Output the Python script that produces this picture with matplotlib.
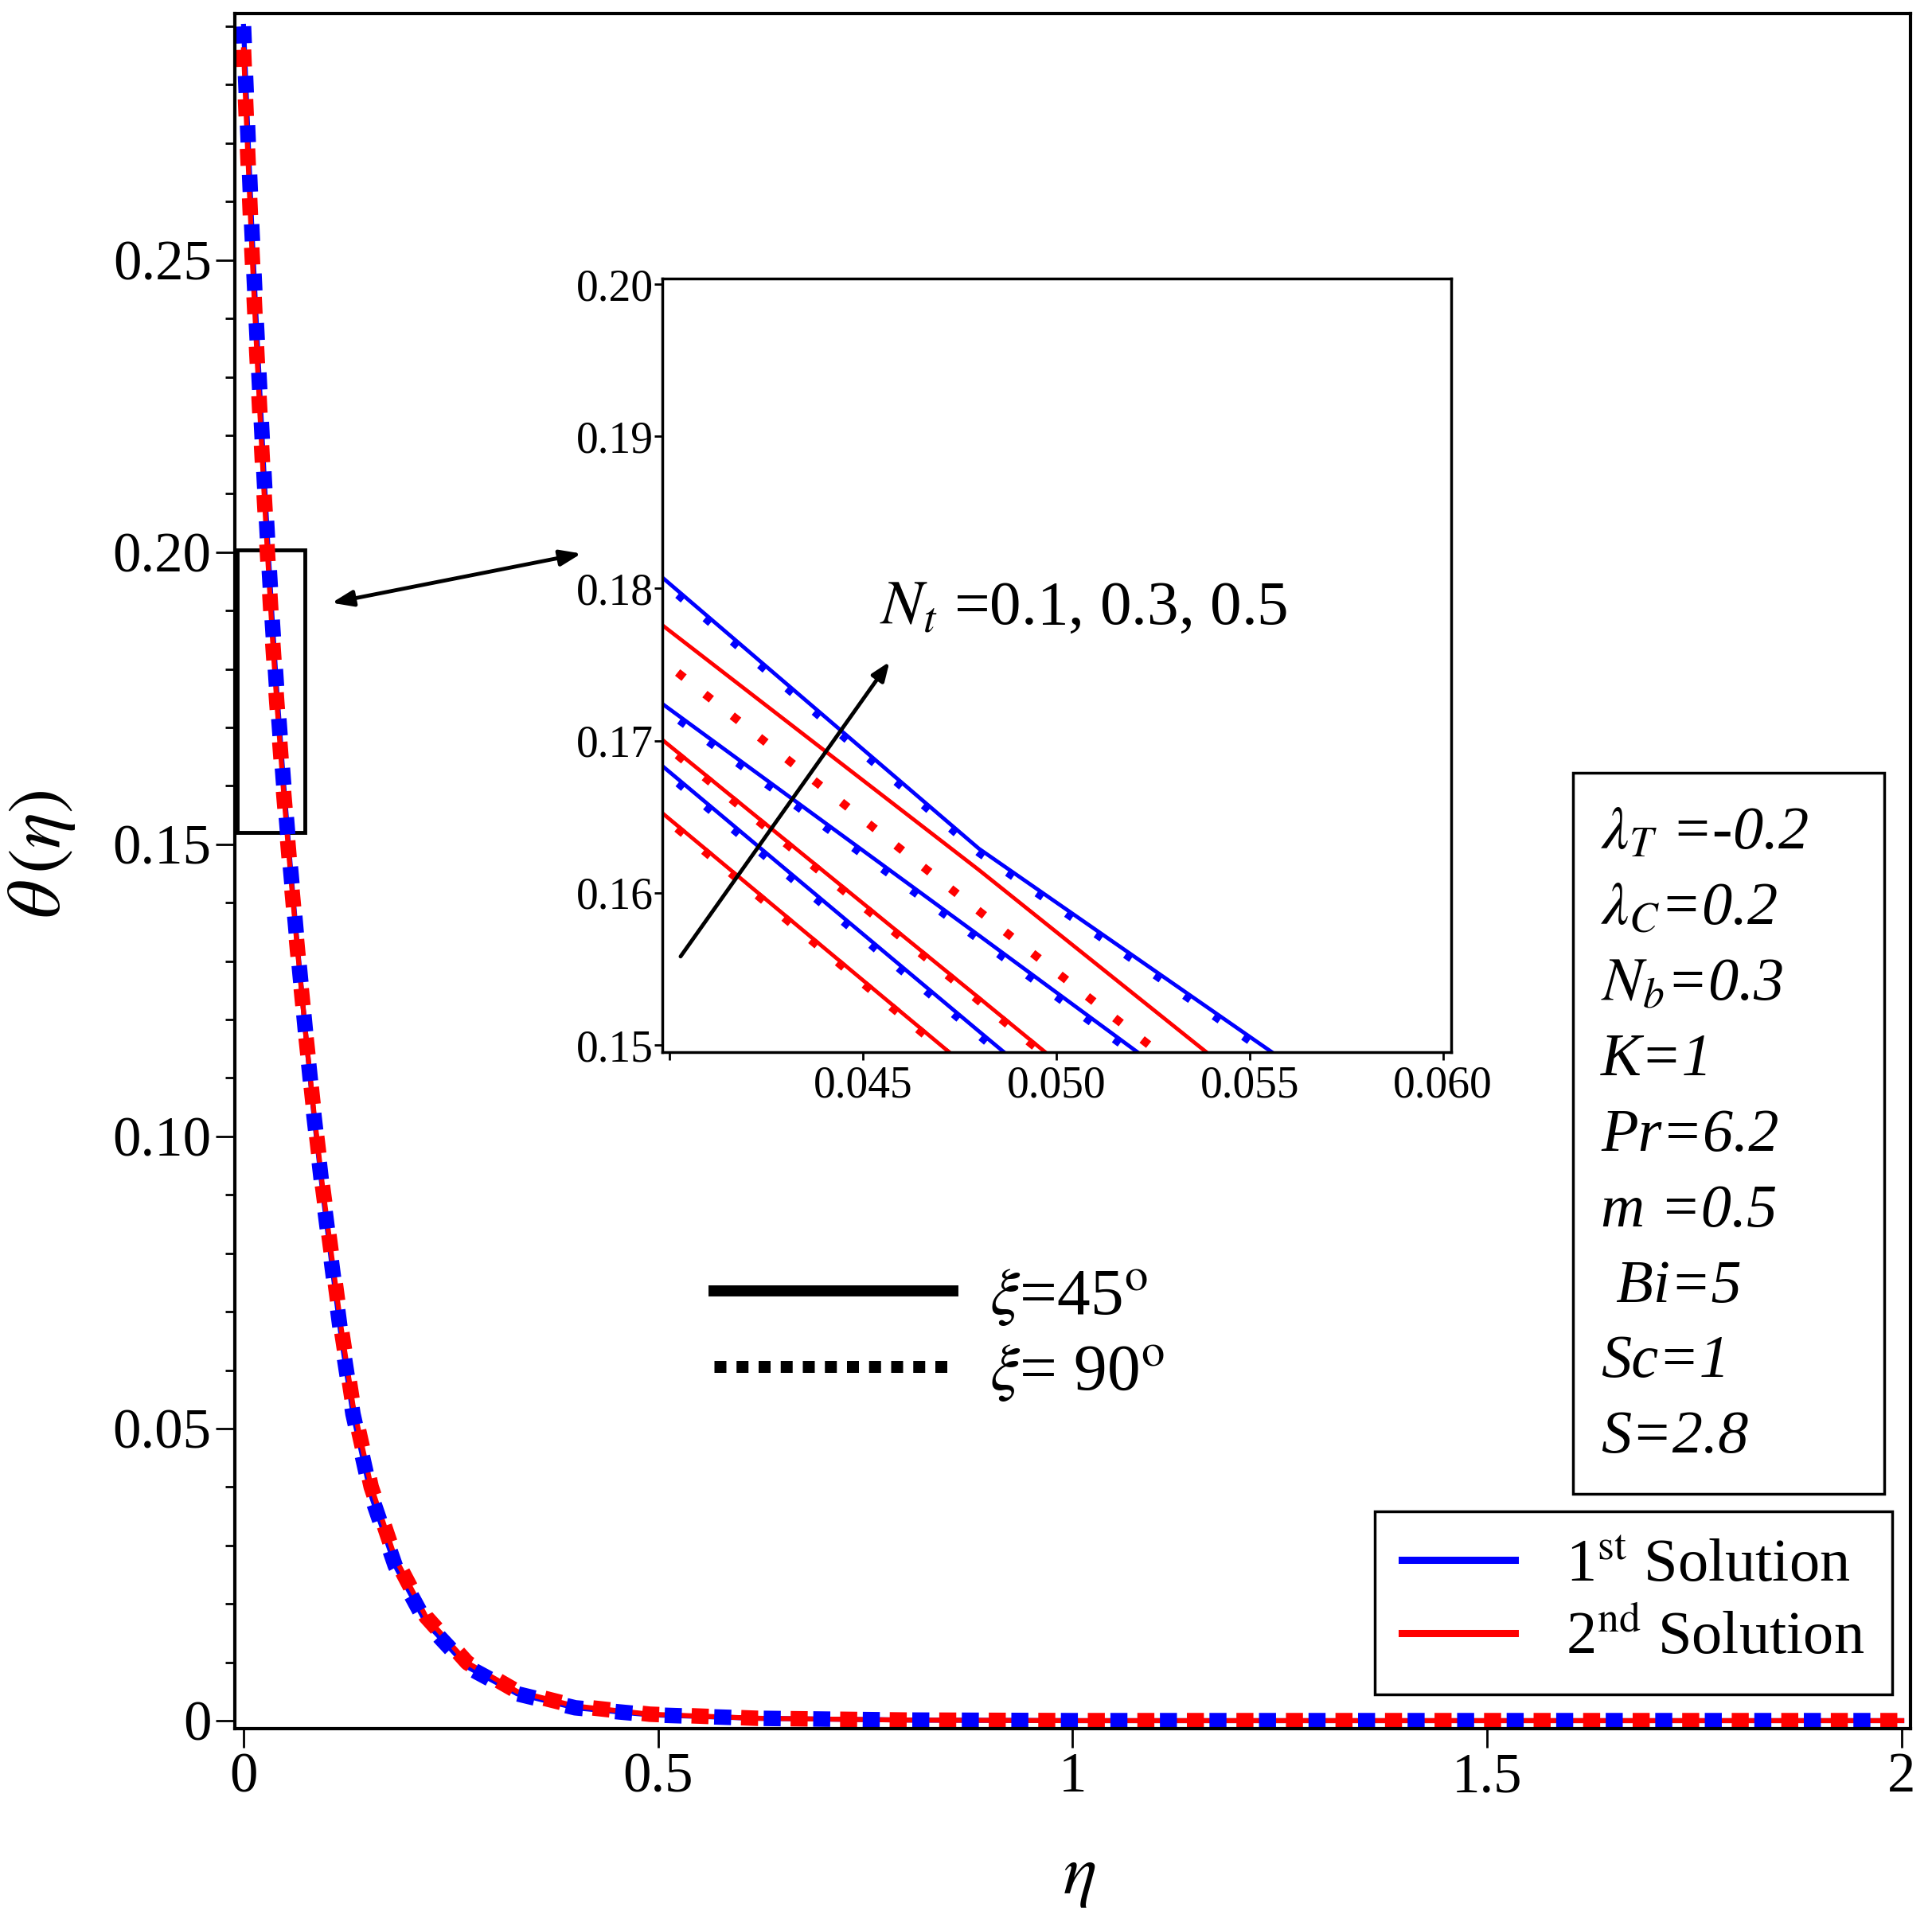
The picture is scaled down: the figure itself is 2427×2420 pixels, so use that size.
import matplotlib
matplotlib.use("Agg")
import matplotlib.pyplot as plt
from matplotlib.patches import Rectangle
from matplotlib.lines import Line2D
from matplotlib.ticker import MultipleLocator

plt.rcParams["font.family"] = ["Liberation Serif", "DejaVu Serif"]
plt.rcParams["mathtext.fontset"] = "stix"

# main panel: theta(eta) for both solutions (the xi=45 / xi=90 curves coincide here)
eta = [0, 0.005, 0.01, 0.015, 0.02, 0.025, 0.03, 0.035, 0.04, 0.048, 0.056,
       0.065, 0.075, 0.085, 0.095, 0.107, 0.118, 0.132, 0.154, 0.183, 0.22,
       0.27, 0.33, 0.40, 0.49, 0.62, 0.8, 1.0, 1.25, 1.5, 1.75, 2.0]
theta_1st = [0.290, 0.2725, 0.2555, 0.2405, 0.2265, 0.2125, 0.1995, 0.1875,
             0.1765, 0.161, 0.147, 0.1325, 0.1175, 0.1035, 0.091, 0.0775,
             0.0655, 0.0525, 0.0385, 0.0265, 0.0168, 0.0092, 0.0046, 0.0022,
             0.0010, 0.0004, 0.0001, 0.0, 0.0, 0.0, 0.0, 0.0]
theta_2nd = [0.286, 0.2685, 0.252, 0.237, 0.223, 0.2095, 0.197, 0.185,
             0.1745, 0.1595, 0.146, 0.132, 0.1175, 0.104, 0.0918, 0.0788,
             0.0670, 0.0540, 0.0400, 0.0278, 0.0178, 0.0099, 0.0050, 0.0025,
             0.0011, 0.0004, 0.0001, 0.0, 0.0, 0.0, 0.0, 0.0]

# zoomed panel, rows are Nt = 0.1, 0.3, 0.5
eta_zoom = [0.0395, 0.048, 0.0565]
zoom_1st_45 = [[0.1690, 0.1509, 0.1329],
               [0.1730, 0.1572, 0.1413],
               [0.1814, 0.1629, 0.1479]]
zoom_1st_90 = [[0.1687, 0.1506, 0.1326],
               [0.1727, 0.1569, 0.1410],
               [0.1811, 0.1626, 0.1476]]
zoom_2nd_45 = [[0.1659, 0.1479, 0.1300],
               [0.1707, 0.1531, 0.1354],
               [0.1782, 0.1615, 0.1442]]
zoom_2nd_90 = [[0.1657, 0.1477, 0.1298],
               [0.1705, 0.1529, 0.1352],
               [0.1759, 0.1588, 0.1418]]

params = [r"$\lambda_T$ =-0.2", r"$\lambda_C$=0.2", r"$N_b$=0.3", "K=1",
          "Pr=6.2", "m =0.5", " Bi=5", "Sc=1", "S=2.8"]

BLUE = "#0000ff"
RED = "#ff0000"

fig = plt.figure(figsize=(24.27, 24.2), dpi=100)
ax = fig.add_axes([0.1215, 0.1025, 0.8674, 0.8905])

ax.plot(eta, theta_1st, color=BLUE, lw=4.5)
ax.plot(eta, theta_2nd, color=RED, lw=4.5)
ax.plot(eta, theta_2nd, color=RED, lw=14, ls=(0, (1.1, 2.1)), dash_capstyle="butt")
ax.plot(eta, theta_1st, color=BLUE, lw=14, ls=(0, (1.1, 2.1)), dash_capstyle="butt")

ax.set_xlim(-0.0106, 2.0106)
ax.set_ylim(-0.00136, 0.2922)
ax.set_xticks([0, 0.5, 1, 1.5, 2])
ax.set_xticklabels(["0", "0.5", "1", "1.5", "2"])
ax.set_yticks([0, 0.05, 0.10, 0.15, 0.20, 0.25])
ax.set_yticklabels(["0", "0.05", "0.10", "0.15", "0.20", "0.25"])
ax.yaxis.set_minor_locator(MultipleLocator(0.01))
ax.tick_params(which="major", direction="out", length=17, width=2, labelsize=51, pad=4)
ax.tick_params(which="minor", direction="out", length=9, width=2)
for s in ax.spines.values():
    s.set_linewidth(3)

ax.set_ylabel(r"$\theta\,(\eta)$", fontsize=68)
ax.yaxis.set_label_coords(-0.094, 0.51)
ax.set_xlabel(r"$\eta$", fontsize=64)
ax.xaxis.set_label_coords(0.504, -0.068)

# box marking the zoomed region
ax.add_patch(Rectangle((-0.0077, 0.152), 0.0816, 0.0484, fill=False, lw=3.5, ec="black", clip_on=False))
ax.annotate("", xy=(733 / 2427, 1 - 695 / 2420), xytext=(414 / 2427, 1 - 758 / 2420),
            xycoords="figure fraction", textcoords="figure fraction",
            arrowprops=dict(arrowstyle="<|-|>,head_length=1.6,head_width=0.6", lw=3.5, color="black"))

# parameter box
ax.add_patch(Rectangle((0.7986, 0.1369), 0.1857, 0.4204, transform=ax.transAxes,
                       fill=False, lw=2.5, ec="black"))
for i, p in enumerate(params):
    ax.text(0.8152, 0.5215 - i * 0.0440, p, transform=ax.transAxes, fontsize=55,
            fontstyle="italic", ha="left", va="center")

# xi line-style key
xi_handles = [Line2D([], [], color="black", lw=10),
              Line2D([], [], color="black", lw=10.8, ls=(0, (1, 0.85)), dash_capstyle="butt")]
leg_xi = ax.legend(xi_handles, [r"$\xi$=45$^{\rm o}$", r"$\xi$= 90$^{\rm o}$"],
                   loc="center left", bbox_to_anchor=(0.2860, 0.2290), frameon=False,
                   fontsize=60, handlelength=3.6, handletextpad=0.55, labelspacing=0.22,
                   borderpad=0, borderaxespad=0)
ax.add_artist(leg_xi)

sol_handles = [Line2D([], [], color=BLUE, lw=6.5), Line2D([], [], color=RED, lw=6.5)]
leg = ax.legend(sol_handles, [r"1$^{\rm st}$ Solution", r"2$^{\rm nd}$ Solution"],
                loc="lower right", bbox_to_anchor=(0.989, 0.0200), fontsize=55,
                handlelength=1.85, handletextpad=0.85, labelspacing=0.28, borderpad=0.45,
                borderaxespad=0, fancybox=False, framealpha=1)
leg.get_frame().set_edgecolor("black")
leg.get_frame().set_linewidth(2.5)

# inset
axin = fig.add_axes([0.3428, 0.4537, 0.4083, 0.4017])
for k in range(3):
    axin.plot(eta_zoom, zoom_1st_45[k], color=BLUE, lw=3.5)
    axin.plot(eta_zoom, zoom_2nd_45[k], color=RED, lw=3.5)
    axin.plot(eta_zoom, zoom_1st_90[k], color=BLUE, lw=6.5, ls=(0, (1, 4.0)), dash_capstyle="butt")
    axin.plot(eta_zoom, zoom_2nd_90[k], color=RED, lw=7.5, ls=(0, (1, 3.2)), dash_capstyle="butt")

axin.set_xlim(0.03981, 0.06021)
axin.set_ylim(0.14953, 0.20037)
axin.set_xticks([0.040, 0.045, 0.050, 0.055, 0.060])
axin.set_xticklabels(["", "0.045", "0.050", "0.055", "0.060"])
axin.set_yticks([0.15, 0.16, 0.17, 0.18, 0.19, 0.20])
axin.set_yticklabels(["0.15", "0.16", "0.17", "0.18", "0.19", "0.20"])
axin.tick_params(axis="y", direction="out", length=7, width=2, labelsize=40, pad=1)
axin.tick_params(axis="x", direction="out", length=7, width=2, labelsize=40, pad=5)
for s in axin.spines.values():
    s.set_linewidth(2.5)

axin.annotate("", xy=(0.04572, 0.1753), xytext=(0.04025, 0.1557),
              arrowprops=dict(arrowstyle="-|>,head_length=1.4,head_width=0.55", lw=3.5, color="black"))
axin.text(0.04543, 0.17866, r"$N_t$ =0.1, 0.3, 0.5", fontsize=57, ha="left", va="center")

fig.savefig("out.png", dpi=100)
